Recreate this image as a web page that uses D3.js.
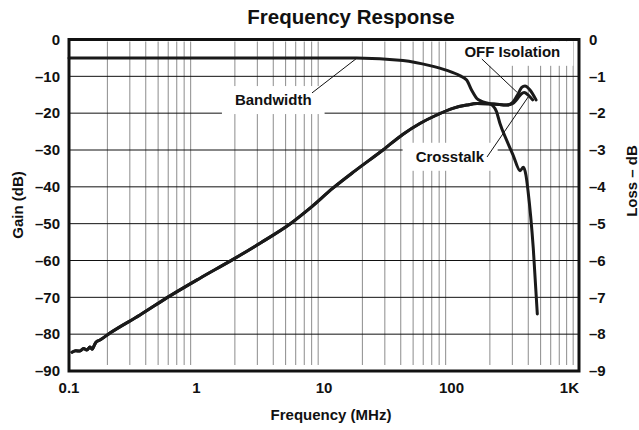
<!DOCTYPE html>
<html>
<head>
<meta charset="utf-8">
<script src="https://cdn.jsdelivr.net/npm/d3@7/dist/d3.min.js"></script>
<style>
  html, body { margin: 0; padding: 0; background: #fff; }
  svg { display: block; font-family: "Liberation Sans", Arial, Helvetica, sans-serif; font-weight: bold; }
</style>
</head>
<body>
<div id="chart"></div>
<script>
// Axis ticks
var freqTicks = [0.1, 1, 10, 100, 1000];
var freqTickLabels = ["0.1", "1", "10", "100", "1K"];
var gainTicks = [0, -10, -20, -30, -40, -50, -60, -70, -80, -90];
var lossTicks = [0, -1, -2, -3, -4, -5, -6, -7, -8, -9];

// Bandwidth (insertion loss, right axis, dB)
var bandwidthFreq = [0.1, 1, 10, 18, 41.6, 67.8, 92, 116, 131.5, 144, 158, 172.5, 193, 211, 225, 240, 271, 305, 345, 366, 384, 398, 438, 471];
var bandwidthLoss = [-0.5, -0.5, -0.5, -0.5, -0.57, -0.71, -0.84, -0.98, -1.1, -1.38, -1.6, -1.68, -1.73, -1.8, -1.95, -2.28, -2.74, -3.15, -3.56, -3.47, -3.69, -4.1, -5.67, -7.45];

// OFF isolation (gain, left axis, dB)
var isolationFreq = [0.1056, 0.113, 0.122, 0.13, 0.138, 0.146, 0.152, 0.158, 0.1628, 0.175, 0.2096, 0.3604, 0.6196, 1.065, 1.935, 3.15, 5.41, 7.77, 11.8, 17.6, 29.0, 41.7, 56.5, 76.6, 102.3, 131.7, 158.6, 213.9, 271, 298.8, 326.5, 355.5, 376.9, 412.7, 460.5];
var isolationGain = [-84.9, -84.5, -84.6, -83.9, -84.3, -83.5, -84.1, -83.0, -82.2, -81.6, -79.7, -74.8, -69.6, -64.8, -59.7, -55.3, -50.1, -45.8, -40.3, -35.6, -30.0, -25.7, -22.8, -20.5, -18.7, -17.8, -17.4, -17.5, -17.8, -17.2, -15.3, -13.0, -12.6, -13.7, -16.4];

// Crosstalk (gain, left axis, dB)
var crosstalkFreq = [0.1056, 0.113, 0.122, 0.13, 0.138, 0.146, 0.152, 0.158, 0.1628, 0.175, 0.2096, 0.3604, 0.6196, 1.065, 1.935, 3.15, 5.41, 7.77, 11.8, 17.6, 29.0, 41.7, 56.5, 76.6, 102.3, 131.7, 158.6, 213.9, 271, 298.8, 326.5, 352, 371.7, 400, 433];
var crosstalkGain = [-84.9, -84.5, -84.6, -83.9, -84.3, -83.5, -84.1, -83.0, -82.2, -81.6, -79.7, -74.8, -69.6, -64.8, -59.7, -55.3, -50.1, -45.8, -40.3, -35.6, -30.0, -25.7, -22.8, -20.5, -18.7, -17.8, -17.4, -17.5, -17.8, -17.5, -16.2, -14.8, -14.4, -15.1, -16.4];

// Callouts: label position and leader line, in data units (MHz, gain dB)
var calloutText = ["Bandwidth", "Crosstalk", "OFF Isolation"];
var calloutAt = [[4.0, -17.8], [97, -33.2], [300, -4.7]];
var calloutFrom = [[8.05, -14.5], [190, -31.9], [173, -5.3]];
var calloutTo = [[18.2, -5.0], [405, -15.3], [326, -14.3]];

var width = 639;
var height = 430;
var margin = { top: 39.5, right: 60, bottom: 59, left: 69 };

var svg = d3.select("#chart").append("svg")
  .attr("width", width)
  .attr("height", height);

var x = d3.scaleLog()
  .domain([0.1, 1000])
  .range([margin.left, width - margin.right]);

var yGain = d3.scaleLinear()
  .domain([-90, 0])
  .range([height - margin.bottom, margin.top]);

var yLoss = d3.scaleLinear()
  .domain([-9, 0])
  .range([height - margin.bottom, margin.top]);

var x0 = x.range()[0], x1 = x.range()[1];
var yTop = yGain.range()[1], yBot = yGain.range()[0];

// Vertical grid (2..9 of each decade)
var minorFreqs = [];
freqTicks.slice(0, -1).forEach(function(d) {
  for (var k = 2; k <= 9; k++) minorFreqs.push(d * k);
});

var grid = svg.append("g").attr("class", "grid");

grid.selectAll("line.v")
  .data(minorFreqs)
  .enter().append("line")
  .attr("class", "v")
  .attr("x1", function(d) { return x(d); })
  .attr("x2", function(d) { return x(d); })
  .attr("y1", yTop + 2)
  .attr("y2", yBot - 6)
  .attr("stroke", "#8c8c8c")
  .attr("stroke-width", 1);

grid.selectAll("line.h")
  .data(gainTicks.slice(1, -1))
  .enter().append("line")
  .attr("class", "h")
  .attr("x1", x0)
  .attr("x2", x1)
  .attr("y1", function(d) { return yGain(d); })
  .attr("y2", function(d) { return yGain(d); })
  .attr("stroke", "#111")
  .attr("stroke-width", 1);

// Callout label backgrounds knock out the grid
var callouts = calloutText.map(function(t, i) {
  return { text: t, at: calloutAt[i], from: calloutFrom[i], to: calloutTo[i] };
});

var boxes = svg.append("g").attr("class", "callout-boxes");
var labels = svg.append("g").attr("class", "callout-labels");

// Curves
var lineGain = d3.line()
  .x(function(d) { return x(d[0]); })
  .y(function(d) { return yGain(d[1]); })
  .curve(d3.curveMonotoneX);

var lineLoss = d3.line()
  .x(function(d) { return x(d[0]); })
  .y(function(d) { return yLoss(d[1]); })
  .curve(d3.curveMonotoneX);

var curves = svg.append("g").attr("class", "curves")
  .attr("fill", "none")
  .attr("stroke", "#1a1a1a")
  .attr("stroke-width", 3)
  .attr("stroke-linejoin", "round")
  .attr("stroke-linecap", "round");

curves.append("path")
  .datum(d3.zip(crosstalkFreq, crosstalkGain))
  .attr("d", lineGain);

curves.append("path")
  .datum(d3.zip(isolationFreq, isolationGain))
  .attr("d", lineGain);

curves.append("path")
  .datum(d3.zip(bandwidthFreq, bandwidthLoss))
  .attr("d", lineLoss);

// Frame
svg.append("rect")
  .attr("x", x0)
  .attr("y", yTop)
  .attr("width", x1 - x0)
  .attr("height", yBot - yTop)
  .attr("fill", "none")
  .attr("stroke", "#111")
  .attr("stroke-width", 3);

// Callout labels and leaders
callouts.forEach(function(c) {
  var t = labels.append("text")
    .attr("x", x(c.at[0]))
    .attr("y", yGain(c.at[1]))
    .attr("text-anchor", "middle")
    .attr("font-size", 15)
    .attr("fill", "#111")
    .text(c.text);
  var bb = t.node().getBBox();
  var top = Math.max(yTop + 2, yGain(c.at[1]) - 19);
  boxes.append("rect")
    .attr("x", bb.x - 13)
    .attr("y", top)
    .attr("width", bb.width + 26)
    .attr("height", yGain(c.at[1]) + 9 - top)
    .attr("fill", "#fff");
  labels.append("line")
    .attr("x1", x(c.from[0]))
    .attr("y1", yGain(c.from[1]))
    .attr("x2", x(c.to[0]))
    .attr("y2", yGain(c.to[1]))
    .attr("stroke", "#111")
    .attr("stroke-width", 1);
});

// Axis tick labels
var axes = svg.append("g").attr("font-size", 15).attr("fill", "#111");

axes.selectAll("text.gain")
  .data(gainTicks)
  .enter().append("text")
  .attr("class", "gain")
  .attr("x", 60)
  .attr("y", function(d) { return yGain(d); })
  .attr("dy", "0.35em")
  .attr("text-anchor", "end")
  .text(function(d) { return d === 0 ? "0" : "\u2013" + Math.abs(d); });

axes.selectAll("text.loss")
  .data(lossTicks)
  .enter().append("text")
  .attr("class", "loss")
  .attr("x", 589)
  .attr("y", function(d) { return yLoss(d); })
  .attr("dy", "0.35em")
  .attr("text-anchor", "start")
  .text(function(d) { return d === 0 ? "0" : "\u2013" + Math.abs(d); });

axes.selectAll("text.freq")
  .data(freqTicks)
  .enter().append("text")
  .attr("class", "freq")
  .attr("x", function(d) { return x(d); })
  .attr("y", 393)
  .attr("text-anchor", function(d, i) { return i === freqTicks.length - 1 ? "end" : "middle"; })
  .text(function(d, i) { return freqTickLabels[i]; });

// Titles
svg.append("text")
  .attr("x", 351)
  .attr("y", 24)
  .attr("text-anchor", "middle")
  .attr("font-size", 20.5)
  .attr("fill", "#111")
  .text("Frequency Response");

svg.append("text")
  .attr("x", 331)
  .attr("y", 420)
  .attr("text-anchor", "middle")
  .attr("font-size", 15)
  .attr("fill", "#111")
  .text("Frequency (MHz)");

svg.append("text")
  .attr("transform", "translate(23,205) rotate(-90)")
  .attr("text-anchor", "middle")
  .attr("font-size", 15)
  .attr("fill", "#111")
  .text("Gain (dB)");

svg.append("text")
  .attr("transform", "translate(637,181) rotate(-90)")
  .attr("text-anchor", "middle")
  .attr("font-size", 15)
  .attr("fill", "#111")
  .text("Loss \u2013 dB");
</script>
</body>
</html>
